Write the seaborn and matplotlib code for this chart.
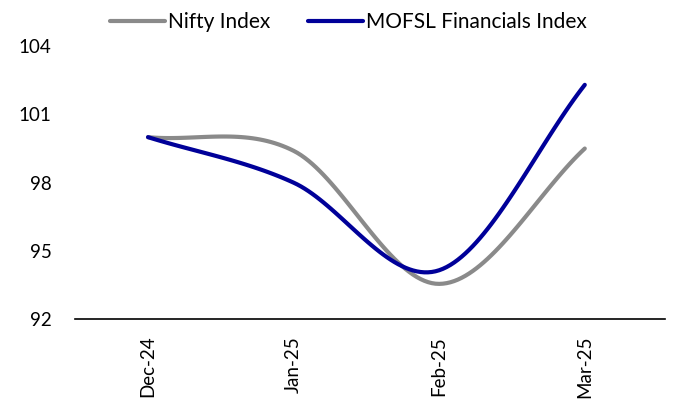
import numpy as np
import pandas as pd
import matplotlib.pyplot as plt
import seaborn as sns

months = ["Dec-24", "Jan-25", "Feb-25", "Mar-25"]
nifty = [100.0, 99.4, 93.55, 99.5]
mofsl = [100.0, 98.0, 94.15, 102.3]


def smooth(vals, n=40):
    # Excel-style smoothed line (Catmull-Rom bezier segments)
    p = [2 * vals[0] - vals[1]] + list(vals) + [2 * vals[-1] - vals[-2]]
    xs, ys = [], []
    for i in range(len(vals) - 1):
        p0, p1, p2, p3 = p[i], p[i + 1], p[i + 2], p[i + 3]
        c1 = p1 + (p2 - p0) / 6
        c2 = p2 - (p3 - p1) / 6
        t = np.linspace(0, 1, n)
        xs.extend(i + t)
        ys.extend((1 - t) ** 3 * p1 + 3 * (1 - t) ** 2 * t * c1
                  + 3 * (1 - t) * t ** 2 * c2 + t ** 3 * p2)
    return np.array(xs), np.array(ys)


rows = []
for name, vals in [("Nifty Index", nifty), ("MOFSL Financials Index", mofsl)]:
    x, y = smooth(vals)
    rows.append(pd.DataFrame({"x": x, "value": y, "series": name}))
df = pd.concat(rows)

sns.set_style("white")
plt.rcParams["font.family"] = ["Lato", "DejaVu Sans"]
plt.rcParams["text.color"] = "black"
plt.rcParams["xtick.color"] = "black"
plt.rcParams["ytick.color"] = "black"

fig = plt.figure(figsize=(6.84, 4.05), dpi=100)
ax = fig.add_axes([0.110, 0.212, 0.862, 0.674])

sns.lineplot(data=df, x="x", y="value", hue="series",
             palette=["#8a8a8a", "#000099"], linewidth=3.0, ax=ax,
             sort=False, estimator=None)

ax.set_xlim(-0.5, 3.55)
ax.set_ylim(92, 104)
ax.set_yticks([92, 95, 98, 101, 104])
ax.set_xticks(range(len(months)))
ax.set_xticklabels(months, rotation=90)
ax.tick_params(axis="both", length=0, labelsize=13.5)
ax.tick_params(axis="y", pad=17)
ax.tick_params(axis="x", pad=12)
ax.set_xlabel("")
ax.set_ylabel("")
for s in ["top", "right", "left"]:
    ax.spines[s].set_visible(False)
ax.spines["bottom"].set_color("black")
ax.spines["bottom"].set_linewidth(1.2)

ax.legend(loc="center", bbox_to_anchor=(0.463, 1.088), ncol=2, frameon=False,
          fontsize=15, handlelength=2.65, handletextpad=0.15, columnspacing=1.8)

fig.savefig("out.png", dpi=100)
